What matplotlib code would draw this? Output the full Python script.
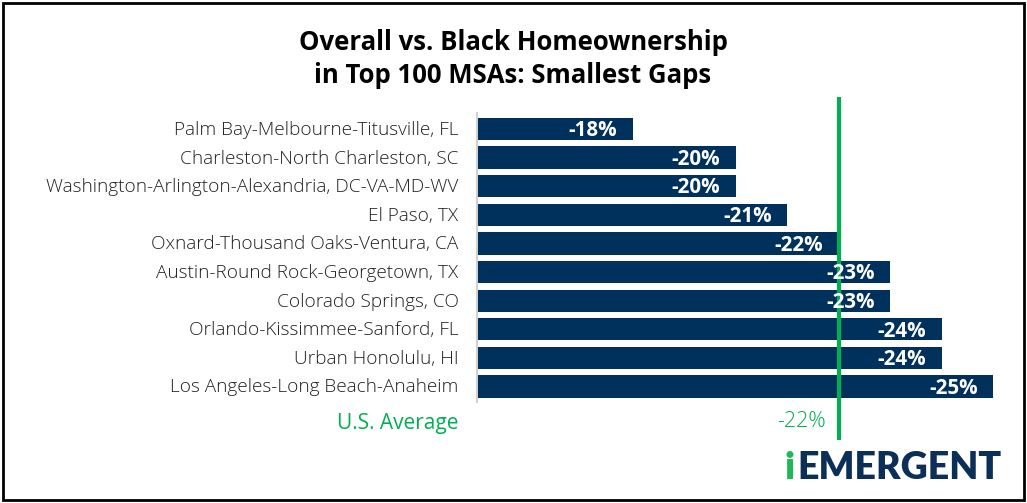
import matplotlib
matplotlib.use("Agg")
import matplotlib.pyplot as plt
from matplotlib.patches import Rectangle

categories = [
    "Palm Bay-Melbourne-Titusville, FL",
    "Charleston-North Charleston, SC",
    "Washington-Arlington-Alexandria, DC-VA-MD-WV",
    "El Paso, TX",
    "Oxnard-Thousand Oaks-Ventura, CA",
    "Austin-Round Rock-Georgetown, TX",
    "Colorado Springs, CO",
    "Orlando-Kissimmee-Sanford, FL",
    "Urban Honolulu, HI",
    "Los Angeles-Long Beach-Anaheim",
]
gaps = [18, 20, 20, 21, 22, 23, 23, 24, 24, 25]
us_average = 22
title = "Overall vs. Black Homeownership\nin Top 100 MSAs: Smallest Gaps"

NAVY = "#00315C"
GREEN = "#00B050"

W, H = 1027, 503
fig = plt.figure(figsize=(W / 100, H / 100), dpi=100)
fig.patch.set_facecolor("white")

# axes geometry in pixels
x0, x1 = 478, 1010
y_top, y_bot = 97, 440
ax = fig.add_axes([x0 / W, 1 - y_bot / H, (x1 - x0) / W, (y_bot - y_top) / H])
px_per_unit = 51.5
xmin = 15
ax.set_xlim(xmin, xmin + (x1 - x0) / px_per_unit)
ax.set_ylim(10.87, -1.12)
ax.axis("off")

ypos = list(range(len(categories)))
ax.barh(ypos, [g - xmin for g in gaps], left=xmin, height=0.78, color=NAVY, zorder=2)

for y, g, c in zip(ypos, gaps, categories):
    ax.text(g - 0.3, y + 0.06, f"-{g}%", ha="right", va="center", color="white",
            fontsize=14.8, fontweight="bold", family="Open Sans", zorder=4)
    ax.text(xmin - 0.38, y + 0.03, c, ha="right", va="center", color="#222222",
            fontsize=13.7, fontweight="light", family="Open Sans", clip_on=False)

# left axis line (light gray)
ax.plot([xmin - 0.02, xmin - 0.02], [-0.55, 9.55], color="#D0D0D0", lw=1.5,
        clip_on=False, zorder=1)

# average line
ax.axvline(us_average, color=GREEN, lw=3, zorder=3)
ax.text(xmin - 0.38, 10.3, "U.S. Average", ha="right", va="center", color=GREEN,
        fontsize=15, family="Open Sans", clip_on=False)
ax.text(us_average - 0.25, 10.22, f"-{us_average}%", ha="right", va="center",
        color=GREEN, fontsize=15.5, fontweight="light", family="Open Sans", clip_on=False)

# title
fig.text(513 / W, 1 - 59 / H, title, ha="center", va="center", fontsize=18.5,
         fontweight="bold", family="Open Sans", linespacing=1.25, color="black")

# logo
fig.text(784 / W, 1 - 468 / H, "i", ha="left", va="center", fontsize=27,
         fontweight="heavy", family="Lato", color="#1DB954")
fig.text(797 / W, 1 - 468 / H, "EMERGENT", ha="left", va="center", fontsize=27,
         fontweight="heavy", family="Lato", color="#0B2F57")

# border
fig.add_artist(Rectangle((3 / W, 3 / H), (W - 6) / W, (H - 6) / H,
                         transform=fig.transFigure, fill=False, ec="black", lw=2))

fig.savefig("out.png", dpi=100)
